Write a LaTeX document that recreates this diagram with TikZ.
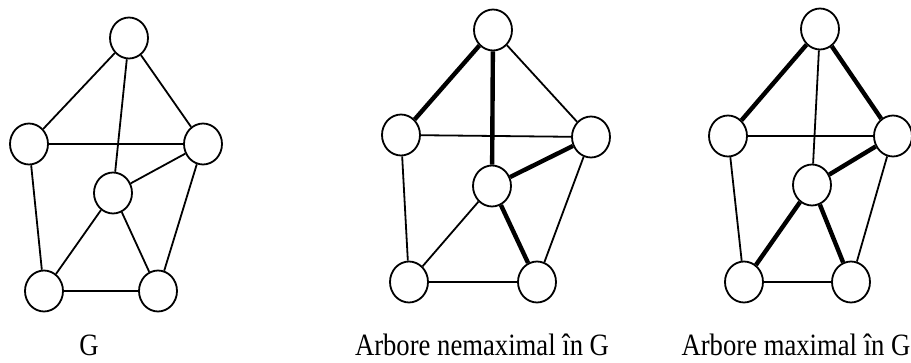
\documentclass[tikz,border=0pt]{standalone}
\usepackage{fontspec}
\setmainfont{Liberation Serif}
\usetikzlibrary{shapes.geometric}
\begin{document}
\begin{tikzpicture}[x=1pt,y=1pt,
  vtx/.style={draw,ellipse,line width=1.8pt,minimum width=38pt,minimum height=41pt,inner sep=0pt,fill=white},
  thin/.style={line width=1.8pt},
  thick/.style={line width=4.4pt},
  lbl/.style={anchor=base,inner sep=0pt,font=\fontsize{31}{34}\selectfont}]
\useasboundingbox (0,0) rectangle (911,362);
% Graph G
\node[vtx] (aT) at (129,324) {};
\node[vtx] (aL) at (29,218) {};
\node[vtx] (aR) at (203,218) {};
\node[vtx] (aC) at (113,169) {};
\node[vtx] (aBL) at (44,71) {};
\node[vtx] (aBR) at (158,71) {};
\draw[thin] (aT) -- (aL);
\draw[thin] (aT) -- (aR);
\draw[thin] (aT) -- (aC);
\draw[thin] (aL) -- (aR);
\draw[thin] (aL) -- (aBL);
\draw[thin] (aR) -- (aC);
\draw[thin] (aR) -- (aBR);
\draw[thin] (aC) -- (aBL);
\draw[thin] (aC) -- (aBR);
\draw[thin] (aBL) -- (aBR);
\node[lbl] (la) at (89,7) {\scalebox{0.86}[1]{G}};
% Graph 2
\node[vtx] (bT) at (493,332) {};
\node[vtx] (bL) at (401,227) {};
\node[vtx] (bR) at (591,225) {};
\node[vtx] (bC) at (492,176) {};
\node[vtx] (bBL) at (409,80) {};
\node[vtx] (bBR) at (537,80) {};
\draw[thick] (bT) -- (bL);
\draw[thin] (bT) -- (bR);
\draw[thick] (bT) -- (bC);
\draw[thin] (bL) -- (bR);
\draw[thin] (bL) -- (bBL);
\draw[thick] (bR) -- (bC);
\draw[thin] (bR) -- (bBR);
\draw[thin] (bC) -- (bBL);
\draw[thick] (bC) -- (bBR);
\draw[thin] (bBL) -- (bBR);
\node[lbl] (lb) at (482,7) {\scalebox{0.86}[1]{Arbore nemaximal în G}};
% Graph 3
\node[vtx] (cT) at (820,333) {};
\node[vtx] (cL) at (728,226) {};
\node[vtx] (cR) at (893,226) {};
\node[vtx] (cC) at (812,177) {};
\node[vtx] (cBL) at (744,80) {};
\node[vtx] (cBR) at (851,80) {};
\draw[thick] (cT) -- (cL);
\draw[thick] (cT) -- (cR);
\draw[thin] (cT) -- (cC);
\draw[thin] (cL) -- (cR);
\draw[thin] (cL) -- (cBL);
\draw[thick] (cR) -- (cC);
\draw[thin] (cR) -- (cBR);
\draw[thick] (cC) -- (cBL);
\draw[thick] (cC) -- (cBR);
\draw[thin] (cBL) -- (cBR);
\node[lbl] (lc) at (796,7) {\scalebox{0.86}[1]{Arbore maximal în G}};
\end{tikzpicture}
\end{document}
